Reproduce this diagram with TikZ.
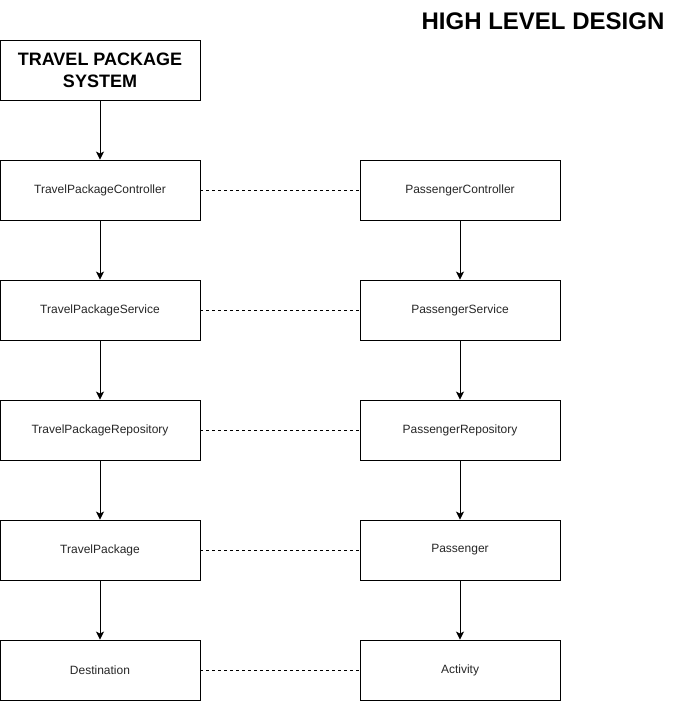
\documentclass[tikz,border=0pt]{standalone}
\usepackage{fontspec}
\setmainfont{Liberation Sans}
\usetikzlibrary{arrows.meta}
\begin{document}
\begin{tikzpicture}[x=1pt,y=-1pt,
  box/.style={draw,line width=0.9pt,minimum width=200pt,minimum height=60pt,inner sep=0pt,font=\fontsize{12}{14}\selectfont,text=black!85},
  arr/.style={-{Stealth[length=8pt,width=8pt,inset=2pt]},line width=0.9pt},
  dsh/.style={line width=0.8pt,dash pattern=on 3pt off 3pt}]
\useasboundingbox (0,0) rectangle (681,701);
\node[font=\fontsize{24}{28}\bfseries\selectfont] (title) at (543,21) {HIGH LEVEL DESIGN};
\node[box,font=\fontsize{18}{22}\bfseries\selectfont,align=center,text=black] (sys) at (100,70) {TRAVEL PACKAGE\\SYSTEM};
\node[box] (tpc) at (100,190) {TravelPackageController};
\node[box] (tps) at (100,310) {TravelPackageService};
\node[box] (tpr) at (100,430) {TravelPackageRepository};
\node[box] (tp) at (100,550) {TravelPackage};
\node[box] (dest) at (100,670) {Destination};
\node[box] (pc) at (460,190) {PassengerController};
\node[box] (ps) at (460,310) {PassengerService};
\node[box] (pr) at (460,430) {PassengerRepository};
\node[box] (p) at (460,550) {Passenger};
\node[box] (act) at (460,670) {Activity};
\draw[arr] (sys) -- (tpc);
\draw[arr] (tpc) -- (tps);
\draw[arr] (tps) -- (tpr);
\draw[arr] (tpr) -- (tp);
\draw[arr] (tp) -- (dest);
\draw[arr] (pc) -- (ps);
\draw[arr] (ps) -- (pr);
\draw[arr] (pr) -- (p);
\draw[arr] (p) -- (act);
\draw[dsh] (tpc) -- (pc);
\draw[dsh] (tps) -- (ps);
\draw[dsh] (tpr) -- (pr);
\draw[dsh] (tp) -- (p);
\draw[dsh] (dest) -- (act);
\end{tikzpicture}
\end{document}
